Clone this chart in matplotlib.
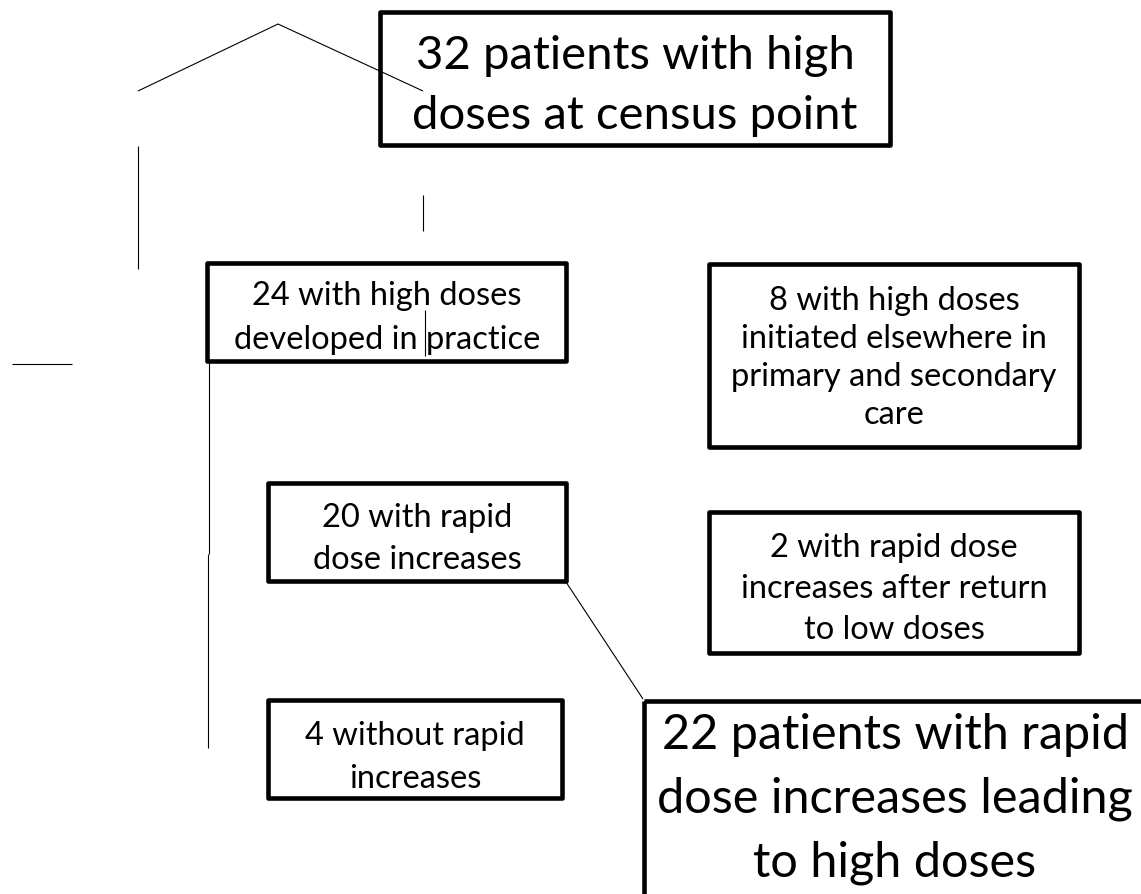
#!/usr/bin/env python3
"""Flow diagram of patients reaching high doses (recreated with matplotlib)."""

import matplotlib.pyplot as plt
from matplotlib.patches import Rectangle

W, H = 1141, 894

# box texts
box_labels = [
    "32 patients with high\ndoses at census point",
    "24 with high doses\ndeveloped in practice",
    "8 with high doses\ninitiated elsewhere in\nprimary and secondary\ncare",
    "20 with rapid\ndose increases",
    "2 with rapid dose\nincreases after return\nto low doses",
    "4 without rapid\nincreases",
    "22 patients with rapid\ndose increases leading\nto high doses",
]

# layout: (x0, y0, x1, y1) in pixels, text centre, font size, line spacing
box_rects = [
    (380, 12, 890, 145),
    (207, 263, 566, 361),
    (709, 264, 1079, 447),
    (268, 483, 566, 581),
    (709, 512, 1079, 653),
    (268, 700, 562, 798),
    (644, 701, 1147, 897),
]
text_pos = [(635, 86), (387, 318), (894, 358), (417, 539), (894, 589), (415, 757.5), (895, 799)]
font_sizes = [34, 23.5, 23.5, 23.5, 23.5, 23.5, 35]
line_space = [1.52, 1.56, 1.33, 1.52, 1.45, 1.55, 1.54]

# thin connector lines (x list, y list)
connectors = [
    ([138, 278, 423], [91, 24, 91]),
    ([138, 138], [146, 269]),
    ([423, 423], [195, 231]),
    ([425, 425], [310, 356]),
    ([12, 72], [364, 364]),
    ([208.7, 208.7], [362, 554]),
    ([207.7, 207.7], [554, 748]),
    ([566, 643], [582, 699]),
]

plt.rcParams["font.family"] = ["Lato", "DejaVu Sans"]

fig = plt.figure(figsize=(W / 100, H / 100), dpi=100)
ax = fig.add_axes([0, 0, 1, 1])
ax.set_xlim(0, W)
ax.set_ylim(H, 0)
ax.axis("off")

for xs, ys in connectors:
    ax.plot(xs, ys, color="black", lw=0.8, solid_capstyle="butt")

for label, (x0, y0, x1, y1), (tx, ty), fs, ls in zip(
    box_labels, box_rects, text_pos, font_sizes, line_space
):
    ax.add_patch(Rectangle((x0, y0), x1 - x0, y1 - y0, fill=False,
                           edgecolor="black", lw=3.3, joinstyle="round"))
    ax.text(tx, ty, label, ha="center", va="center", multialignment="center",
            fontsize=fs, linespacing=ls, color="black")

fig.savefig("out.png", dpi=100, facecolor="white")
